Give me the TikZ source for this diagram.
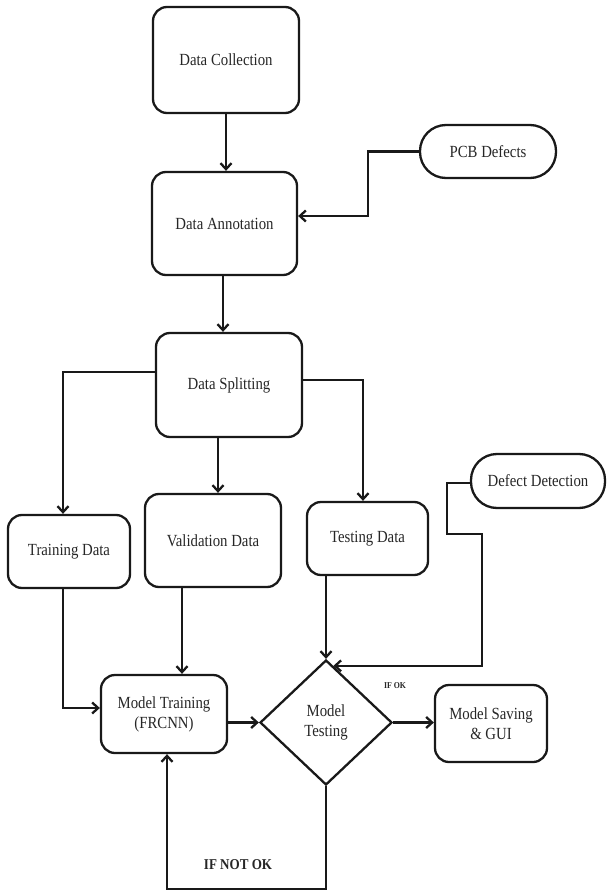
\documentclass[tikz,border=0pt]{standalone}
\usepackage{fontspec}
\setmainfont[FakeStretch=0.87]{Liberation Serif}
\usetikzlibrary{shapes.geometric,arrows.meta,calc}
\begin{document}
\begin{tikzpicture}[x=1pt,y=-1pt,
  line width=2.3pt,
  every node/.style={text=black!85},
  boxnode/.style={draw=black!90,rounded corners=14pt,inner sep=2pt,align=center,
     font=\fontsize{17}{20}\selectfont},
  pillnode/.style={draw=black!90,rounded corners=26pt,inner sep=2pt,align=center,
     font=\fontsize{17}{20}\selectfont},
  arr/.style={draw=black!90,-{Straight Barb[length=6pt,width=11pt]}},
  lbl/.style={font=\bfseries\fontsize{15}{17}\selectfont},
  smalllbl/.style={font=\bfseries\fontsize{9}{10}\selectfont}]
\useasboundingbox (0,0) rectangle (607,890);

\node[boxnode,minimum width=146pt,minimum height=106pt] (dc) at (226,60) {Data Collection};
\node[boxnode,minimum width=145pt,minimum height=103pt] (da) at (224.5,223.5) {Data Annotation};
\node[pillnode,minimum width=136pt,minimum height=53pt] (pcb) at (488,151.5) {PCB Defects};
\node[boxnode,minimum width=146pt,minimum height=104pt] (ds) at (229,385) {Data Splitting};
\node[pillnode,minimum width=134pt,minimum height=54pt] (dd) at (538,481) {Defect Detection};
\node[boxnode,minimum width=122pt,minimum height=73pt] (td) at (69,551.5) {Training Data};
\node[boxnode,minimum width=136pt,minimum height=93pt] (vd) at (213,540.5) {Validation Data};
\node[boxnode,minimum width=121pt,minimum height=73pt] (tsd) at (367.5,538.5) {Testing Data};
\node[boxnode,minimum width=126pt,minimum height=78pt] (mt) at (164,714) {Model Training\\(FRCNN)};
\node[diamond,draw=black!90,minimum width=132pt,minimum height=125pt,inner sep=0pt,align=center,
     font=\fontsize{17}{20}\selectfont] (dt) at (326,722.5) {Model\\Testing};
\node[boxnode,minimum width=112pt,minimum height=77pt] (ms) at (491,723.5) {Model Saving\\\& GUI};

\node[smalllbl] (ifok) at (395,686) {IF OK};
\node[lbl] (ifnot) at (238,865) {IF NOT OK};

% connectors
\draw[arr] (dc.south) -- (dc.south |- da.north);
\coordinate (pcbturn) at ($(pcb.west)+(-51,0)$);
\draw[arr] (pcb.west) -- (pcbturn) |- ($(da.east)+(0,-7.5)$);
\coordinate (das) at ($(da.south)+(-1.5,0)$);
\draw[arr] (das) -- (das |- ds.north);
\coordinate (dsw) at ($(ds.west)+(0,-13)$);
\coordinate (tdn) at ($(td.north)+(-6,0)$);
\draw[arr] (dsw) -| (tdn);
\coordinate (dss) at ($(ds.south)+(-11,0)$);
\draw[arr] (dss) -- (dss |- vd.north);
\coordinate (dse) at ($(ds.east)+(0,-5)$);
\coordinate (tsdn) at ($(tsd.north)+(-4.5,0)$);
\draw[arr] (dse) -| (tsdn);
\coordinate (ddj1) at ($(dd.west)+(-23,2)$);
\coordinate (ddj2) at (482,534);
\coordinate (ddin) at ($(dt.north)!0.11!(dt.east)$);
\draw[arr] ($(dd.west)+(0,2)$) -- (ddj1) |- (ddj2) |- (ddin);
\draw[arr] (dt.north |- tsd.south) -- (dt.north);
\coordinate (tds) at ($(td.south)+(-6,0)$);
\coordinate (mtw) at ($(mt.west)+(0,-6)$);
\draw[arr] (tds) |- (mtw);
\coordinate (vds) at (182,587);
\draw[arr] (vds) -- (vds |- mt.north);
\draw[arr] (mt.east |- dt.west) -- (dt.west);
\draw[arr] (dt.east) -- (dt.east -| ms.west);
\coordinate (loopbot) at ($(dt.south)+(0,103)$);
\coordinate (mts) at ($(mt.south)+(3,0)$);
\draw[arr] (dt.south) -- (loopbot) -| (mts);
\end{tikzpicture}
\end{document}
